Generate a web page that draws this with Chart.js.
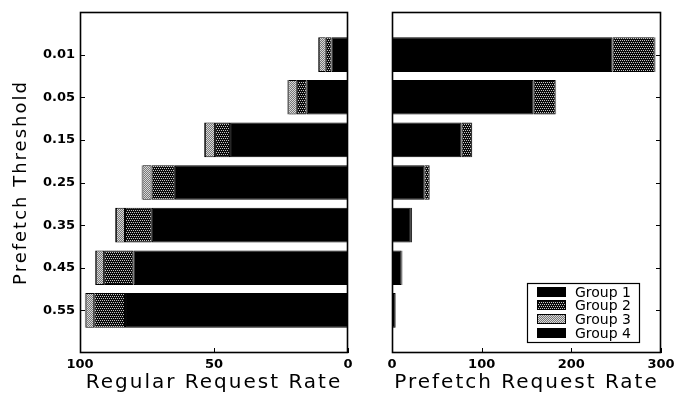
<!DOCTYPE html>
<html>
<head>
<meta charset="utf-8">
<script src="https://cdn.jsdelivr.net/npm/chart.js@4"></script>
<style>
  html, body { margin: 0; padding: 0; background: #fff; width: 674px; height: 396px; overflow: hidden; }
  canvas { position: absolute; top: 0; }
  #regular { left: 0; }
  #prefetch { left: 370px; }
</style>
</head>
<body>
<canvas id="regular" width="370" height="396"></canvas>
<canvas id="prefetch" width="304" height="396"></canvas>
<script>
// Prefetch thresholds (one bar row each, top to bottom)
const thresholds = ['0.01', '0.05', '0.15', '0.25', '0.35', '0.45', '0.55'];
const groupNames = ['Group 1', 'Group 2', 'Group 3', 'Group 4'];

// Regular request rate, split by group
const regularG1 = [6.1, 15.4, 44.0, 64.6, 73.2, 80.1, 83.2];
const regularG2 = [2.2, 3.7, 5.6, 8.7, 10.0, 10.9, 11.5];
const regularG3 = [2.6, 3.2, 3.8, 3.4, 3.4, 3.1, 3.2];
const regularG4 = [0.3, 0.3, 0.3, 0.3, 0.3, 0.3, 0.3];

// Prefetch request rate, split by group
const prefetchG1 = [246, 158, 77.6, 36.0, 21.0, 10.8, 4.0];
const prefetchG2 = [47.0, 24.5, 11.5, 6.0, 1.2, 0.8, 0.4];
const prefetchG3 = [0.8, 0.5, 0.4, 0.3, 0.2, 0.2, 0.1];
const prefetchG4 = [0.2, 0.2, 0.1, 0.1, 0.1, 0.1, 0.05];

// Axis tick values
const regularTicks = [0, 50, 100];
const prefetchTicks = [0, 100, 200, 300];

Chart.defaults.font.family = '"DejaVu Sans", sans-serif';
Chart.defaults.color = '#000';

// Printed-style fills for the grouped segments
function makePattern(ctx, size, base, dots, dotColor) {
  const tile = document.createElement('canvas');
  tile.width = tile.height = size;
  const g = tile.getContext('2d');
  g.fillStyle = base;
  g.fillRect(0, 0, size, size);
  g.fillStyle = dotColor;
  dots.forEach(([x, y]) => g.fillRect(x, y, 1, 1));
  return ctx.createPattern(tile, 'repeat');
}

function groupFills(ctx) {
  return [
    '#000',
    makePattern(ctx, 4, '#0a0a0a', [[0, 0], [2, 0], [1, 2], [3, 2]], '#c8c8c8'),
    makePattern(ctx, 2, '#777777', [[0, 0], [1, 1]], '#d8d8d8'),
    '#000'
  ];
}

function makeDatasets(ctx, series) {
  const fills = groupFills(ctx);
  return series.map((vals, g) => ({
    label: groupNames[g],
    data: vals.map((v, i) => ({ x: v, y: i + 1 })),
    backgroundColor: fills[g],
    borderColor: '#000',
    borderWidth: 1,
    borderSkipped: false,
    categoryPercentage: 1,
    barPercentage: 0.81
  }));
}

// Titles are drawn with a little tracking; tick labels are drawn later without it
const titleSpacing = {
  id: 'titleSpacing',
  beforeDraw(chart) { chart.ctx.letterSpacing = '2px'; },
  beforeDatasetsDraw(chart) { chart.ctx.letterSpacing = '0px'; }
};

// Box around the plot area plus inward-pointing tick marks
const frame = {
  id: 'frame',
  afterDatasetsDraw(chart) {
    const { ctx, chartArea: a, scales } = chart;
    ctx.save();
    ctx.strokeStyle = '#000';
    ctx.lineWidth = 1.6;
    ctx.strokeRect(a.left + 0.5, a.top + 0.5, a.right - a.left - 1, a.bottom - a.top - 1);
    ctx.lineWidth = 1;
    ctx.beginPath();
    scales.x.ticks.forEach(t => {
      const p = Math.round(scales.x.getPixelForValue(t.value)) + 0.5;
      ctx.moveTo(p, a.bottom);
      ctx.lineTo(p, a.bottom - 5);
    });
    const ys = scales.y;
    const onLeft = ys.position === 'left';
    const edge = onLeft ? a.left : a.right;
    ys.ticks.forEach(t => {
      const p = Math.round(ys.getPixelForValue(t.value)) + 0.5;
      ctx.moveTo(edge, p);
      ctx.lineTo(edge + (onLeft ? 5 : -5), p);
    });
    ctx.stroke();
    ctx.restore();
  }
};

// Legend box inside the lower right of the prefetch panel
const legendBox = {
  id: 'legendBox',
  afterDraw(chart) {
    const { ctx, chartArea: a } = chart;
    const w = 112, h = 59;
    const x = Math.round(a.right - 22 - w), y = Math.round(a.bottom - 11 - h);
    ctx.save();
    ctx.letterSpacing = '0px';
    ctx.fillStyle = '#fff';
    ctx.fillRect(x, y, w, h);
    ctx.strokeStyle = '#000';
    ctx.lineWidth = 1.2;
    ctx.strokeRect(x + 0.5, y + 0.5, w, h);
    ctx.lineWidth = 1;
    ctx.font = '14px "DejaVu Sans", sans-serif';
    ctx.textBaseline = 'middle';
    ctx.textAlign = 'left';
    chart.data.datasets.forEach((ds, i) => {
      const cy = Math.round(y + 8.5 + i * 13.8);
      ctx.fillStyle = ds.backgroundColor;
      ctx.fillRect(x + 10, cy - 5, 29, 10);
      ctx.strokeRect(x + 10.5, cy - 4.5, 28, 9);
      ctx.fillStyle = '#000';
      ctx.fillText(ds.label, x + 48, cy + 1);
    });
    ctx.restore();
  }
};

function yScale(position, showLabels) {
  return {
    type: 'linear',
    position,
    stacked: true,
    reverse: true,
    offset: false,
    min: 0,
    max: 8,
    afterBuildTicks: s => { s.ticks = thresholds.map((t, i) => ({ value: i + 1 })); },
    afterFit: s => { s.width = showLabels ? 80 : 13; s.paddingTop = 0; s.paddingBottom = 0; },
    grid: { display: false, drawTicks: false, offset: false },
    border: { display: false },
    ticks: {
      display: showLabels,
      z: 1,
      padding: 5,
      font: { size: 13, weight: 'bold' },
      callback: (v, i) => thresholds[i]
    },
    title: {
      display: showLabels,
      text: 'Prefetch Threshold',
      font: { size: 18 },
      padding: { top: 11, bottom: 0 }
    }
  };
}

function xScale(max, ticks, reverse, title) {
  return {
    type: 'linear',
    stacked: true,
    reverse,
    min: 0,
    max,
    afterBuildTicks: s => { s.ticks = ticks.map(v => ({ value: v })); },
    afterFit: s => { s.height = 43; s.paddingLeft = 0; s.paddingRight = 0; },
    grid: { display: false, drawTicks: false },
    border: { display: false },
    ticks: { z: 1, padding: 4, maxRotation: 0, font: { size: 13, weight: 'bold' } },
    title: { display: true, text: title, font: { size: 20 }, padding: { top: 0, bottom: 1 } }
  };
}

function baseOptions(padding) {
  return {
    responsive: false,
    animation: false,
    indexAxis: 'y',
    layout: { padding },
    plugins: { legend: { display: false }, tooltip: { enabled: false } }
  };
}

const regCanvas = document.getElementById('regular');
const regCtx = regCanvas.getContext('2d');
new Chart(regCtx, {
  type: 'bar',
  data: { datasets: makeDatasets(regCtx, [regularG1, regularG2, regularG3, regularG4]) },
  options: Object.assign(baseOptions({ top: 12, right: 22, left: 0, bottom: 0 }), {
    scales: {
      x: xScale(100, regularTicks, true, 'Regular Request Rate'),
      y: yScale('left', true)
    }
  }),
  plugins: [titleSpacing, frame]
});

const preCanvas = document.getElementById('prefetch');
const preCtx = preCanvas.getContext('2d');
new Chart(preCtx, {
  type: 'bar',
  data: { datasets: makeDatasets(preCtx, [prefetchG1, prefetchG2, prefetchG3, prefetchG4]) },
  options: Object.assign(baseOptions({ top: 12, right: 0, left: 22, bottom: 0 }), {
    scales: {
      x: xScale(300, prefetchTicks, false, 'Prefetch Request Rate'),
      y: yScale('right', false)
    }
  }),
  plugins: [titleSpacing, frame, legendBox]
});
</script>
</body>
</html>
